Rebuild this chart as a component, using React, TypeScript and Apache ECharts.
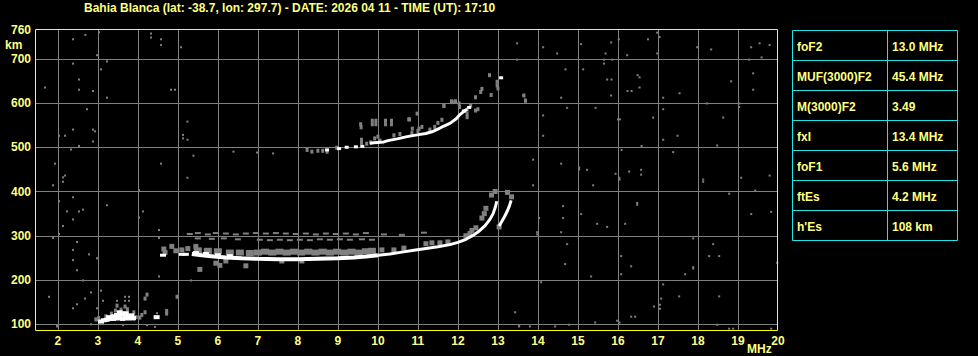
import React, { useEffect, useRef } from 'react';
import * as echarts from 'echarts';

type P = [number, number];

const titleText = 'Bahia Blanca (lat: -38.7, lon: 297.7) - DATE: 2026 04 11 - TIME (UT): 17:10';
const freqTicks = [2, 3, 4, 5, 6, 7, 8, 9, 10, 11, 12, 13, 14, 15, 16, 17, 18, 19];
const freqLabels = [2, 3, 4, 5, 6, 7, 8, 9, 10, 11, 12, 13, 14, 15, 16, 17, 18, 19, 20];
const heightTicks = [100, 200, 300, 400, 500, 600, 700];
const heightLabels = [100, 200, 300, 400, 500, 600, 700, 765];
const paramNames = ['foF2', 'MUF(3000)F2', 'M(3000)F2', 'fxI', 'foF1', 'ftEs', "h'Es"];
const paramValues = ['13.0 MHz', '45.4 MHz', '3.49', '13.4 MHz', '5.6 MHz', '4.2 MHz', '108 km'];

// Sporadic-E echoes
const esWhite: P[] = [[3.08,106],[3.15,109],[3.22,110],[3.3,112],[3.38,112],[3.46,113],[3.54,114],[3.62,112],[3.7,114],[3.78,113],[3.84,120],[3.88,114],[3.48,121],[3.62,122],[3.55,127],[3.7,125],[3.4,118],[3.76,119],[3.28,116],[4.47,116]];
const esGray: P[] = [[2.95,111],[3.02,114],[3.2,118],[3.34,124],[3.44,131],[3.58,133],[3.74,134],[3.9,127],[3.96,116],[4.05,115],[4.1,121],[4.18,127],[4.18,158],[4.23,167],[4.72,130],[4.72,124],[4.98,162],[3.48,142],[3.68,140],[3.9,112]];

// F-layer ordinary trace
const oTraceLow: P[] = [[5.35,259],[5.6,256],[5.9,253],[6.2,251],[6.6,249],[7.0,248],[7.5,247],[8.0,247],[8.5,248],[9.0,249],[9.4,251],[9.7,253],[10.0,256]];
const oTraceHigh: P[] = [[10.0,256],[10.3,259],[10.6,263],[10.9,267],[11.2,271],[11.5,275],[11.8,280],[12.0,285],[12.2,292],[12.4,302],[12.55,312],[12.68,323],[12.8,337],[12.88,350],[12.94,366],[12.97,378]];
// F-layer extraordinary trace
const xTrace: P[] = [[13.03,322],[13.1,333],[13.17,344],[13.24,357],[13.29,368],[13.33,380]];
const fWhiteDots: P[] = [[4.63,256],[5.1,258],[5.2,258],[5.45,262],[5.7,260],[6.0,257],[6.3,255]];
const fBandGray: P[] = [[5.5,267],[5.75,266],[6.0,265],[6.3,262],[6.55,262],[6.8,261],[7.0,262],[7.18,264],[7.36,262],[7.54,264],[7.72,262],[7.9,264],[8.08,262],[8.26,264],[8.44,262],[8.62,264],[8.8,262],[8.98,264],[9.16,262],[9.34,264],[9.52,262],[9.7,265],[9.85,266]];
const fSpread: P[] = [[4.65,270],[4.68,262],[4.85,276],[4.95,266],[5.1,268],[5.25,271],[5.45,276],[10.1,268],[10.4,268],[10.65,272],[11.2,282],[11.35,284],[11.55,284],[11.75,286],[12.2,300],[12.3,305],[12.35,312],[12.45,318],[12.6,340],[12.66,350],[12.7,362],[12.84,392],[12.93,400],[13.03,320],[13.24,398],[13.34,388],[5.55,224],[5.95,238],[6.05,233],[6.7,232],[6.2,243],[7.6,243],[8.1,243]];
const fDashTop: P[] = [[5.3,304],[5.5,306],[5.75,303],[5.95,306],[6.2,305],[6.45,303],[6.7,305],[6.95,306],[7.2,305],[7.45,306],[7.7,305],[7.95,304],[8.2,305],[8.45,303],[8.7,305],[8.95,304],[9.2,305],[9.45,303],[9.7,306],[10.15,303],[10.6,302],[11.15,307]];
const fDashLow: P[] = [[5.5,294],[5.85,293],[6.15,294],[6.5,292],[7.05,291],[7.3,290],[7.55,291],[7.8,290],[8.05,291],[8.3,290],[8.55,292],[8.8,291],[9.05,292],[9.3,291],[9.6,292],[9.85,291]];

// Second-hop F echoes (~500 km)
const multiTrace: P[] = [[9.8,509],[9.9,510],[10.15,512],[10.25,515],[10.48,519],[10.73,524],[10.98,528],[11.2,531],[11.35,535],[11.5,541],[11.65,548],[11.8,554],[11.95,564],[12.03,572],[12.12,579],[12.23,586]];
const multiWhiteDots: P[] = [[9.03,497],[9.22,500],[9.45,501],[9.61,502],[8.73,494],[13.08,657],[12.28,590],[12.15,582]];
const multiGray: P[] = [[8.23,494],[8.35,490],[8.5,492],[8.62,492],[8.73,490],[8.97,499],[9.58,545],[9.59,517],[9.59,510],[9.72,508],[9.82,511],[9.92,520],[10.0,524],[10.05,515],[9.86,560],[9.95,560],[9.86,552],[9.95,552],[10.19,560],[10.34,560],[10.19,552],[10.34,552],[10.77,563],[10.4,527],[10.55,530],[10.85,532],[11.0,537],[10.98,576],[11.3,540],[11.42,546],[11.5,555],[11.6,562],[11.65,594],[11.86,602],[12.03,599],[12.23,585],[12.32,594],[12.44,583],[12.5,586],[12.44,613],[12.57,625],[12.6,632],[12.79,663],[12.98,640],[12.98,648],[12.83,618],[13.65,617],[13.69,605],[9.57,552],[10.79,563],[10.86,542],[11.03,542],[11.1,546],[12.04,591],[11.84,604],[11.94,604],[11.65,593],[12.23,575],[12.23,568],[13.0,633]];

// Isolated noise dots
const noise: P[] = [
[2.38,744],[2.69,754],[3.03,760],[4.33,757],[4.33,748],[4.58,744],[4.58,731],[5.08,726],
[2.38,689],[2.98,708],[3.23,694],[3.08,676],[2.53,653],[2.53,630],[2.88,627],[3.23,612],[1.68,635],[4.83,630],[4.93,630],
[2.73,586],[5.24,558],[2.38,540],[2.88,540],[2.93,536],[2.03,526],[2.18,526],[2.88,513],[2.53,503],[5.13,528],[5.13,520],[5.24,517],
[2.33,495],[1.93,463],[4.58,463],[5.39,481],[2.18,436],[2.13,422],[5.24,431],[6.39,490],[6.98,488],[7.38,486],
[13.48,735],[14.13,726],[14.48,712],[15.08,733],[15.83,737],[16.02,744],[16.23,708],[15.69,712],[15.65,698],[15.86,698],[15.65,689],[16.75,744],[16.98,759],[17.04,749],[16.98,712],[17.98,726],[18.33,721],[19.33,726],[19.54,735],[19.79,731],[19.28,698],[19.59,703],[13.48,698],[14.69,676],[15.13,676],[15.73,653],[15.84,653],[16.49,663],[16.54,658],[16.54,635],[16.24,627],[16.34,627],[15.83,617],[18.83,649],[19.38,667],[19.38,630],[17.54,622],[17.13,612],[14.58,612],[13.68,608],[13.63,617],[14.73,589],[15.44,589],[17.13,586],[18.23,599],[19.03,599],[19.03,591],[14.13,572],[16.0,563],[16.05,563],[16.88,567],[18.63,567],[14.13,526],[17.13,517],[17.49,526],[16.59,503],[18.48,504],[16.09,494],[17.38,489],[13.88,472],[14.58,463],[15.03,454],[15.03,450],[15.23,449],[15.94,440],[16.04,427],[16.28,445],[16.58,449],[16.58,438],[18.13,422],[19.08,431],[19.79,436],
[2.13,432],[1.88,414],[2.38,387],[2.03,378],[2.23,355],[2.53,355],[2.63,359],[2.38,337],[3.23,369],[4.03,403],[4.13,355],[4.03,341],[2.13,322],[2.03,304],[1.88,295],[2.48,286],[2.38,268],[2.78,258],[2.98,249],[2.38,245],[2.48,222],[2.63,199],[4.53,313],[4.53,295],[4.53,208],[5.33,199],[5.53,222],[1.78,162],[2.83,172],[2.68,158],[2.48,145],[2.38,136],[3.08,176],[3.13,153],[3.48,153],[3.68,162],[3.68,153],[3.78,162],[3.78,153],[4.98,162],[4.73,123],[4.48,125],[3.63,98],[4.23,98],[4.43,94],[1.98,98],[1.98,95],[2.98,136],[2.98,109],[2.83,100],
[13.88,414],[15.38,414],[16.03,431],[18.13,427],[18.78,395],[19.43,402],[14.63,367],[15.08,349],[14.03,340],[14.63,340],[15.48,327],[15.73,320],[16.18,327],[16.48,374],[16.48,370],[19.33,349],[19.83,354],[13.98,308],[13.98,303],[14.58,308],[14.73,281],[17.88,294],[18.38,281],[18.28,254],[18.53,254],[16.08,254],[16.33,231],[14.68,236],[15.33,208],[16.08,213],[17.68,213],[17.88,229],[17.88,226],[14.08,195],[17.13,190],[17.08,158],[17.53,163],[18.53,163],[16.9,140],[17.05,144],[17.05,135],[13.43,127],[16.33,117],[16.43,117],[15.98,108],[15.43,104],[14.43,95],[14.78,99],[13.53,95],[13.53,98],[13.8,95],[18.48,99],[18.78,90],[18.88,90],[19.83,90],[19.98,239],[16.04,104]
];

const YELLOW = '#ffff80';
const GRAY = '#808080';
const CYAN = '#1ee6e6';
const FONT = '"Liberation Sans", Arial, sans-serif';

function scatter(data: P[], color: string, size: [number, number], z = 3) {
  return { type: 'scatter', data, symbol: 'rect', symbolSize: size, itemStyle: { color, opacity: 1 }, z, silent: true };
}
function trace(data: P[], width: number) {
  return { type: 'line', data, symbol: 'none', showSymbol: false, lineStyle: { color: '#ffffff', width }, z: 5, silent: true };
}

export default function App() {
  const ref = useRef<HTMLDivElement>(null);
  useEffect(() => {
    const chart = echarts.init(ref.current!, null, { renderer: 'svg' });
    const tableEls: any[] = [];
    const tx = 792.5, ty = 30.5, tw = 165, rh = 30, cx = 887.5;
    tableEls.push({ type: 'rect', shape: { x: tx, y: ty, width: tw, height: rh * paramNames.length }, style: { fill: 'none', stroke: CYAN, lineWidth: 1 } });
    tableEls.push({ type: 'line', shape: { x1: cx, y1: ty, x2: cx, y2: ty + rh * paramNames.length }, style: { stroke: CYAN, lineWidth: 1 } });
    paramNames.forEach((name, i) => {
      if (i > 0) tableEls.push({ type: 'line', shape: { x1: tx, y1: ty + rh * i, x2: tx + tw, y2: ty + rh * i }, style: { stroke: CYAN, lineWidth: 1 } });
      const yc = ty + rh * i + 16;
      tableEls.push({ type: 'text', x: 797, y: yc, style: { text: name, fill: YELLOW, font: `bold 12px ${FONT}`, verticalAlign: 'middle', align: 'left' } });
      tableEls.push({ type: 'text', x: 892, y: yc, style: { text: paramValues[i], fill: YELLOW, font: `bold 12px ${FONT}`, verticalAlign: 'middle', align: 'left' } });
    });
    const option: any = {
      animation: false,
      backgroundColor: '#000000',
      grid: { left: 35, right: 200, top: 30, bottom: 26, show: false, containLabel: false, outerBoundsMode: 'none' },
      xAxis: {
        type: 'value', min: 1.43, max: 20,
        axisLine: { show: false },
        axisTick: { show: false, customValues: freqTicks },
        splitLine: { show: true, lineStyle: { color: GRAY, width: 1 } },
        axisLabel: { customValues: freqLabels, color: YELLOW, fontWeight: 'bold', fontSize: 12, fontFamily: FONT, margin: 5, showMinLabel: true, showMaxLabel: true },
      },
      yAxis: {
        type: 'value', min: 87, max: 765,
        axisLine: { show: false },
        axisTick: { show: false, customValues: heightTicks },
        splitLine: { show: true, lineStyle: { color: GRAY, width: 1 } },
        axisLabel: { customValues: heightLabels, color: YELLOW, fontWeight: 'bold', fontSize: 12, fontFamily: FONT, margin: 4, showMinLabel: true, showMaxLabel: true, formatter: (v: number) => (v >= 760 ? '760' : String(v)) },
      },
      graphic: [
        { type: 'rect', z: 100, silent: true, shape: { x: 35.5, y: 29.5, width: 742, height: 301 }, style: { fill: 'none', stroke: '#ffff00', lineWidth: 1 } },
        { type: 'text', x: 84, y: 8, style: { text: titleText, fill: YELLOW, font: `bold 12px ${FONT}`, verticalAlign: 'middle', align: 'left' } },
        { type: 'text', x: 5, y: 45, style: { text: 'km', fill: YELLOW, font: `bold 12px ${FONT}`, verticalAlign: 'middle', align: 'left' } },
        { type: 'text', x: 747, y: 349, style: { text: 'MHz', fill: YELLOW, font: `bold 12px ${FONT}`, verticalAlign: 'middle', align: 'left' } },
        ...tableEls,
      ],
      series: [
        scatter(noise, GRAY, [2, 2]),
        scatter(fDashTop, GRAY, [6, 2]),
        scatter(fDashLow, GRAY, [6, 2]),
        scatter(fBandGray, GRAY, [8, 6]),
        scatter(fSpread, GRAY, [5, 5]),
        scatter(multiGray, GRAY, [3, 4]),
        scatter(esGray, GRAY, [3, 4]),
        trace(oTraceLow, 4),
        trace(oTraceHigh, 3),
        trace(xTrace, 3),
        trace(multiTrace, 3),
        scatter(fWhiteDots, '#ffffff', [6, 3], 6),
        scatter(multiWhiteDots, '#ffffff', [4, 3], 6),
        scatter(esWhite, '#ffffff', [6, 4], 6),
      ],
    };
    chart.setOption(option);
    return () => chart.dispose();
  }, []);
  return <div ref={ref} style={{ position: 'fixed', left: 0, top: 0, width: 978, height: 356, background: '#000' }} />;
}
